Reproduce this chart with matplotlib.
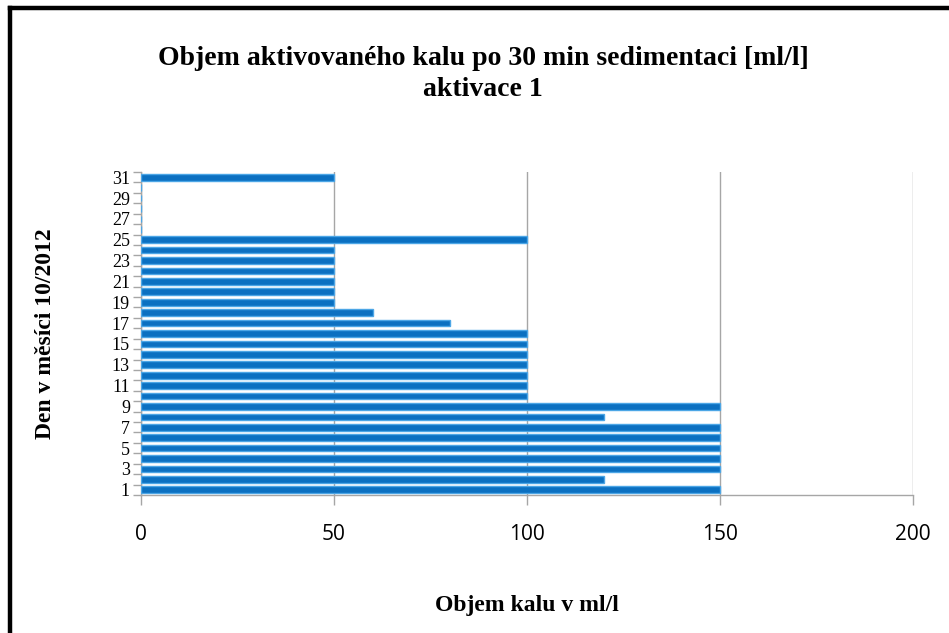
import matplotlib
matplotlib.use("Agg")
import matplotlib.pyplot as plt
from matplotlib.lines import Line2D
import numpy as np

# Daily sludge volume after 30 min settling, October 2012 (0 = no measurement)
days = list(range(1, 32))
volume = [150, 120, 150, 150, 150, 150, 150, 120, 150, 100,
          100, 100, 100, 100, 100, 100, 80, 60, 50, 50,
          50, 50, 50, 50, 100, 0, 0, 0, 0, 0, 50]
x_ticks = [0, 50, 100, 150, 200]
y_tick_days = list(range(1, 32, 2))

title = "Objem aktivovaného kalu po 30 min sedimentaci [ml/l]\naktivace 1"
x_label = "Objem kalu v ml/l"
y_label = "Den v měsíci 10/2012"

serif = ["Liberation Serif", "DejaVu Serif"]
sans = ["Open Sans", "DejaVu Sans"]
grid_gray = "#A6A6A6"

fig = plt.figure(figsize=(9.49, 6.33), dpi=100)
fig.patch.set_facecolor("white")

# chart frame (top and left edges)
fig.add_artist(Line2D([9.5 / 949, 9.5 / 949], [0, 1 - 7.5 / 633],
                      transform=fig.transFigure, color="black", lw=3.2,
                      solid_capstyle="projecting"))
fig.add_artist(Line2D([9.5 / 949, 1], [1 - 7.5 / 633, 1 - 7.5 / 633],
                      transform=fig.transFigure, color="black", lw=3.2,
                      solid_capstyle="projecting"))

ax = fig.add_axes([141 / 949, 1 - 495 / 633, (913 - 141) / 949, (495 - 172) / 633])

ax.barh(days, volume, height=0.64, color="#0B70C1", edgecolor="#4CA6E6",
        linewidth=1.0, zorder=3)

ax.set_xlim(0, 200)
ax.set_ylim(0.5, 31.5)

ax.set_xticks(x_ticks)
ax.set_xticklabels([str(v) for v in x_ticks], fontfamily=sans, fontsize=15)
ax.tick_params(axis="x", direction="out", length=7, color=grid_gray,
               width=1, pad=14)

ax.set_yticks(y_tick_days)
ax.set_yticklabels([str(d) for d in y_tick_days], fontfamily=serif, fontsize=13)
ax.tick_params(axis="y", which="major", length=0, pad=8)
ax.set_yticks(np.arange(0.5, 32, 1.0), minor=True)
ax.tick_params(axis="y", which="minor", direction="out", length=6,
               color=grid_gray, width=1)

ax.grid(axis="x", color=grid_gray, lw=1, zorder=0)
ax.set_axisbelow(True)

for side in ("top", "right"):
    ax.spines[side].set_visible(False)
for side in ("left", "bottom"):
    ax.spines[side].set_color(grid_gray)
    ax.spines[side].set_linewidth(1)

ax.set_xlabel(x_label, fontfamily=serif, fontweight="bold", fontsize=17,
              labelpad=36)
ax.set_ylabel(y_label, fontfamily=serif, fontweight="bold", fontsize=17,
              labelpad=40)

fig.text(483 / 949, 1 - 74 / 633, title, ha="center", va="center",
         fontfamily=serif, fontweight="bold", fontsize=20, linespacing=1.35)

fig.savefig("out.png", dpi=100, facecolor="white")
